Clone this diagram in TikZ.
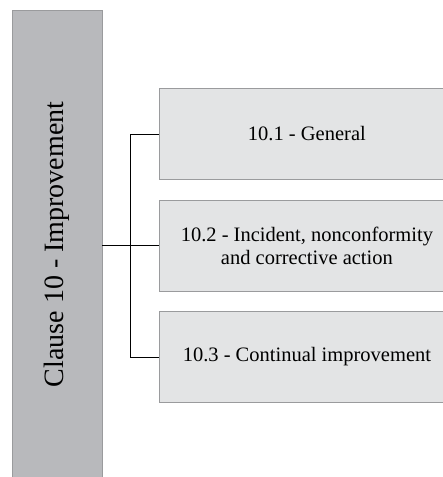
\documentclass[tikz,border=0pt]{standalone}
\usepackage{fontspec}
\setmainfont{Liberation Serif}
\definecolor{leftgray}{HTML}{B8B9BC}
\definecolor{rightgray}{HTML}{E3E4E5}
\definecolor{edgegray}{HTML}{9A9B9D}
\begin{document}
\begin{tikzpicture}[x=1pt,y=1pt,
  mainbox/.style={draw=edgegray,line width=0.8pt,fill=leftgray,inner sep=0pt,minimum width=90pt,minimum height=468pt,anchor=north west},
  subbox/.style={draw=edgegray,line width=0.8pt,fill=rightgray,inner sep=0pt,minimum width=295pt,minimum height=91pt,anchor=north west,align=center,font=\fontsize{20.5}{23}\selectfont},
  conn/.style={line width=0.7pt,black}]
\useasboundingbox (0,0) rectangle (443,-477);
\node[mainbox] (main) at (11.5,-10) {};
\node[rotate=90,font=\fontsize{28}{32}\selectfont] (mainlabel) at (main.center) {Clause 10 - Improvement};
\node[subbox] (s1) at (159,-88) {10.1 - General};
\node[subbox] (s2) at (159,-199.5) {10.2 - Incident, nonconformity\\and corrective action};
\node[subbox] (s3) at (159,-311) {10.3 - Continual improvement};
\coordinate (j) at (130,-245);
\draw[conn] (main.east |- s2.west) -- (s2.west);
\draw[conn] (s1.west) -- (s1.west -| j) -- (s3.west -| j) -- (s3.west);
\end{tikzpicture}
\end{document}
